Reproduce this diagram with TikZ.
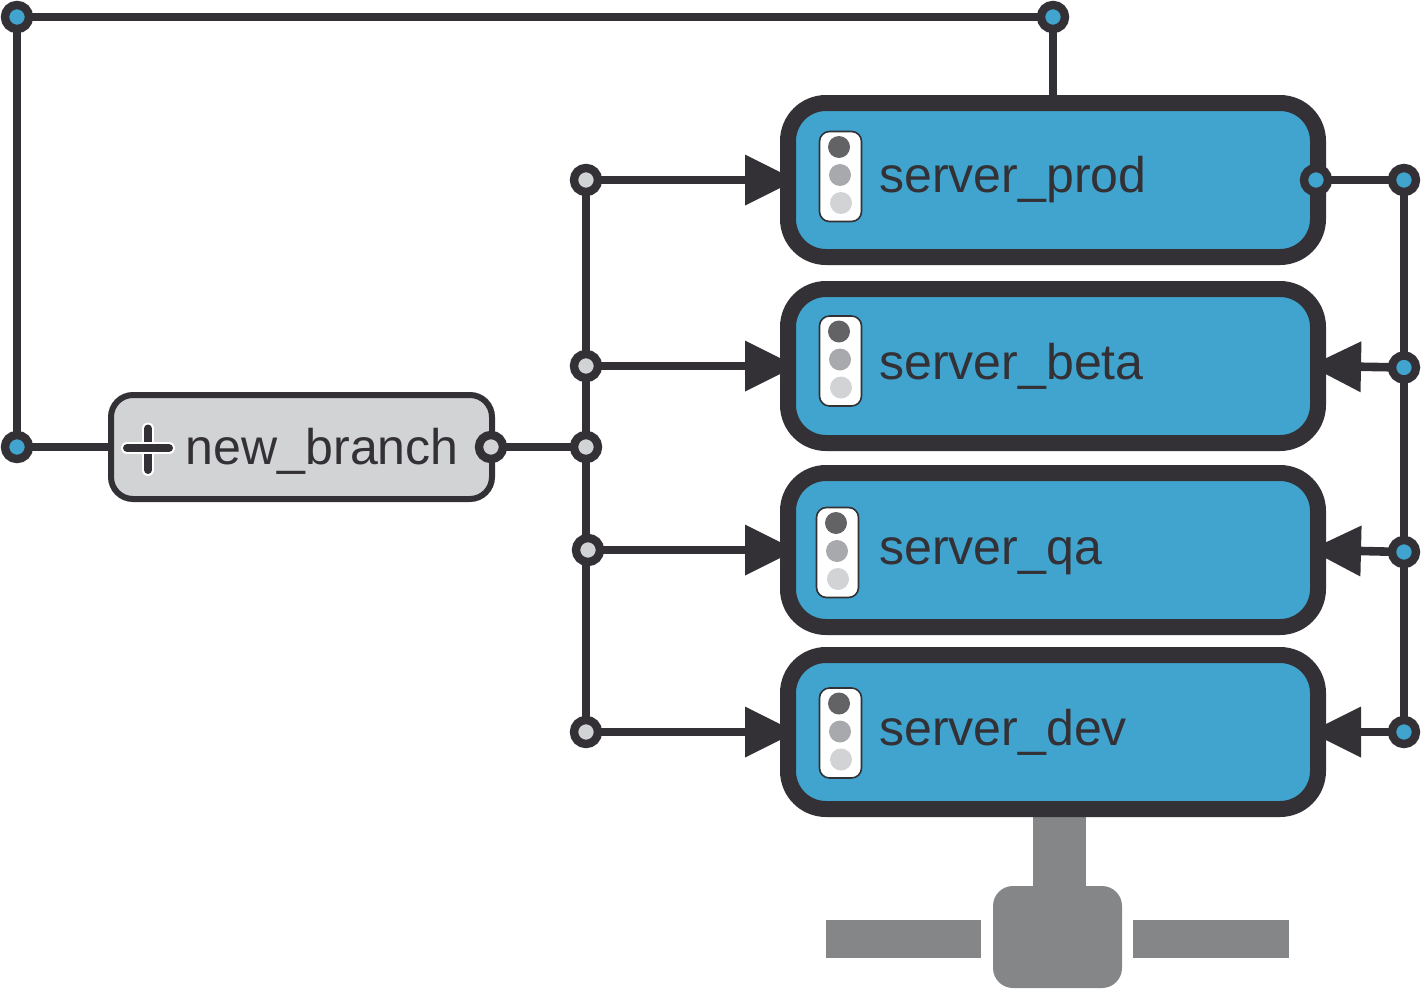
\documentclass[tikz,border=0pt]{standalone}
\usepackage{fontspec}
\setmainfont{Liberation Sans}
\usetikzlibrary{calc,backgrounds,arrows.meta}
\definecolor{ink}{HTML}{333135}
\definecolor{sky}{HTML}{41A4CE}
\definecolor{pale}{HTML}{D1D3D4}
\definecolor{mid}{HTML}{A7A9AC}
\definecolor{dark}{HTML}{636366}
\definecolor{steel}{HTML}{858688}
\tikzset{
  x=0.5pt,y=-0.5pt,
  serverbox/.style={draw=ink,fill=sky,line width=8pt,rounded corners=19pt,minimum width=265pt,minimum height=77pt,inner sep=0pt,outer sep=0pt},
  branchbox/.style={draw=ink,fill=pale,line width=3pt,rounded corners=11pt,minimum width=190.5pt,minimum height=52pt,inner sep=0pt,outer sep=0pt},
  wire/.style={draw=ink,line width=4.3pt},
  flow/.style={wire,shorten >=-4pt,-{Triangle[length=25.5pt,width=25.5pt,sep=0pt,line width=0pt,fill=ink]}},
  portb/.style={circle,draw=ink,fill=sky,line width=4.2pt,minimum size=12pt,inner sep=0pt,outer sep=0pt},
  portg/.style={circle,draw=ink,fill=pale,line width=4.2pt,minimum size=12pt,inner sep=0pt,outer sep=0pt},
  label/.style={anchor=base west,text=ink,inner sep=0pt,font=\fontsize{25.03pt}{26pt}\selectfont},
  lightbox/.style={draw=ink,fill=white,line width=0.8pt,rounded corners=5pt,minimum width=21pt,minimum height=45pt,inner sep=0pt},
  lamp/.style={circle,minimum size=11pt,inner sep=0pt},
  steelpart/.style={fill=steel,draw=none},
}
\begin{document}
\begin{tikzpicture}
\useasboundingbox (0,0) rectangle (1421,991);
% network symbol
\fill[steelpart] (1033,817) rectangle (1086,900);
\fill[steelpart,rounded corners=10pt] (993,886) rectangle (1122,988);
\fill[steelpart] (826,919.5) rectangle (981,958);
\fill[steelpart] (1133,919.5) rectangle (1288.5,958);
% boxes
\node[serverbox] (prod) at (1053,180) {};
\node[serverbox] (beta) at (1053,366) {};
\node[serverbox] (qa) at (1053,550) {};
\node[serverbox] (dev) at (1053,732) {};
\node[branchbox] (nb) at (301.5,447) {};
% ports
\node[portb] (tl) at (17,17) {};
\node[portb] (tr) at (1053,17) {};
\node[portb] (bl) at (17,447) {};
\node[portg] (g0) at (586,447) {};
\node[portg] (g1) at (586,180) {};
\node[portg] (g2) at (586,366) {};
\node[portg] (g3) at (588,550) {};
\node[portg] (g4) at (586,732) {};
\node[portb] (r1) at (1404,180) {};
\node[portb] (r2) at (1404,367.5) {};
\node[portb] (r3) at (1404,552) {};
\node[portb] (r4) at (1404,732) {};
\node[portb] (pr) at (1316,180) {};
\node[portg] (nbr) at (491,447) {};
% wires, behind boxes and ports
\begin{pgfonlayer}{background}
\draw[wire] (tl) -- (tr);
\draw[wire] (tl) -- (bl);
\draw[wire] (tr) -- (prod.north);
\draw[wire] (bl) -- (nb.west);
\draw[wire] (nbr) -- (g0);
\draw[wire] (g1) -- (g2);
\draw[wire] (g2) -- (g0);
\draw[wire] (g0) -- (g4);
\draw[wire] (pr) -- (r1);
\draw[wire] (r1) -- (r2);
\draw[wire] (r2) -- (r3);
\draw[wire] (r3) -- (r4);
\draw[flow] (g1) -- (prod.west);
\draw[flow] (g2) -- (beta.west);
\draw[flow] (g3) -- (qa.west);
\draw[flow] (g4) -- (dev.west);
\draw[flow] (r2) -- (beta.east);
\draw[flow] (r3) -- (qa.east);
\draw[flow] (r4) -- (dev.east);
\end{pgfonlayer}
% lights
\foreach \X/\Y/\b in {840.5/176.5/p,840.5/361/b,837.5/552.5/q,840.5/733/d}{
  \node[lightbox] (box\b) at (\X,\Y) {};
  \node[lamp,fill=dark] (la\b) at ($(\X,\Y)+(-1.5,-29.5)$) {};
  \node[lamp,fill=mid] (lb\b) at ($(\X,\Y)+(-0.5,-1.5)$) {};
  \node[lamp,fill=pale] (lc\b) at ($(\X,\Y)+(0.5,26.5)$) {};
}
% plus icon
\draw[white,line width=6pt,line cap=round] (148,428.5) -- (148,470);
\draw[ink,line width=4pt,line cap=round] (148,428.5) -- (148,470);
\draw[white,line width=6pt,line cap=round] (127,448) -- (169,448);
\draw[ink,line width=4pt,line cap=round] (127,448) -- (169,448);
% labels
\node[label] (t1) at (879,192) {server\_prod};
\node[label] (t2) at (879,379.5) {server\_beta};
\node[label] (t3) at (879,564) {server\_qa};
\node[label] (t4) at (879,745) {server\_dev};
\node[label] (t5) at (185.5,464) {new\_branch};
\end{tikzpicture}
\end{document}
